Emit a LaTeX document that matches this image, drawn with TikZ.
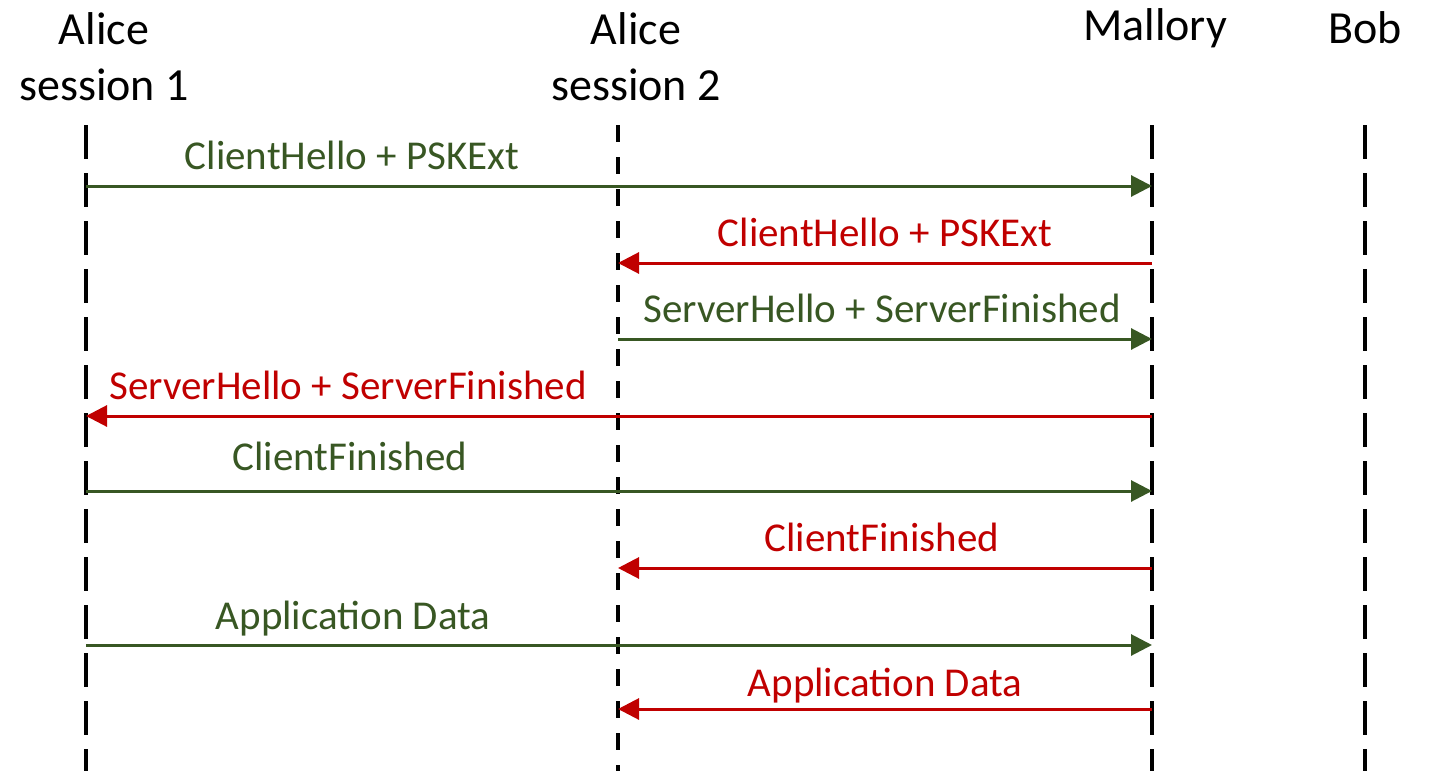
\documentclass[tikz,border=0pt]{standalone}
\usepackage{fontspec}
\setmainfont{Carlito}
\usetikzlibrary{arrows.meta}
\definecolor{msggreen}{RGB}{56,87,35}
\definecolor{msgred}{RGB}{192,0,0}
\tikzset{
  lifelong/.style={line width=4pt, dash pattern=on 34pt off 14pt},
  lifeshort/.style={line width=4pt, dash pattern=on 17pt off 15pt},
  head/.style={font=\fontsize{46}{56}\selectfont, align=center, inner sep=0pt},
  msglabel/.style={font=\fontsize{41}{48}\selectfont, inner sep=0pt, anchor=base},
  fwd/.style={draw=msggreen, line width=3pt, -{Triangle[length=21pt,width=21pt]}, color=msggreen},
  bwd/.style={draw=msgred, line width=3pt, -{Triangle[length=21pt,width=21pt]}, color=msgred},
}
\begin{document}
\begin{tikzpicture}[x=1pt, y=-1pt]
  \useasboundingbox (0,0) rectangle (1430,771);

  % participants
  \node[head] (h1) at (104,57) {Alice\\session 1};
  \node[head] (h2) at (636,57) {Alice\\session 2};
  \node[head] (h3) at (1155,28) {Mallory};
  \node[head] (h4) at (1365,28) {Bob};

  % lifelines
  \coordinate (a1) at (86,125);   \coordinate (a1e) at (86,771);
  \coordinate (a2) at (618,125);  \coordinate (a2e) at (618,771);
  \coordinate (ma) at (1152,125); \coordinate (mae) at (1152,771);
  \coordinate (bo) at (1365,125); \coordinate (boe) at (1365,771);
  \draw[lifelong]  (a1) -- (a1e);
  \draw[lifeshort] (a2) -- (a2e);
  \draw[lifelong]  (ma) -- (mae);
  \draw[lifelong]  (bo) -- (boe);

  % message anchor points on each lifeline
  \foreach \n/\y in {1/186, 2/263, 3/339, 4/416, 5/491, 6/568, 7/645, 8/709} {
    \coordinate (a1m\n) at (86,\y);
    \coordinate (a2m\n) at (618,\y);
    \coordinate (mam\n) at (1152,\y);
  }

  % messages
  \draw[fwd] (a1m1) -- (mam1);
  \node[msglabel, text=msggreen] (l1) at (352,169) {ClientHello + PSKExt};

  \draw[bwd] (mam2) -- (a2m2);
  \node[msglabel, text=msgred] (l2) at (885,246) {ClientHello + PSKExt};

  \draw[fwd] (a2m3) -- (mam3);
  \node[msglabel, text=msggreen] (l3) at (882,322) {ServerHello + ServerFinished};

  \draw[bwd] (mam4) -- (a1m4);
  \node[msglabel, text=msgred] (l4) at (348,399) {ServerHello + ServerFinished};

  \draw[fwd] (a1m5) -- (mam5);
  \node[msglabel, text=msggreen] (l5) at (350,470) {ClientFinished};

  \draw[bwd] (mam6) -- (a2m6);
  \node[msglabel, text=msgred] (l6) at (882,551) {ClientFinished};

  \draw[fwd] (a1m7) -- (mam7);
  \node[msglabel, text=msggreen] (l7) at (353,629) {Application Data};

  \draw[bwd] (mam8) -- (a2m8);
  \node[msglabel, text=msgred] (l8) at (885,696) {Application Data};
\end{tikzpicture}
\end{document}
